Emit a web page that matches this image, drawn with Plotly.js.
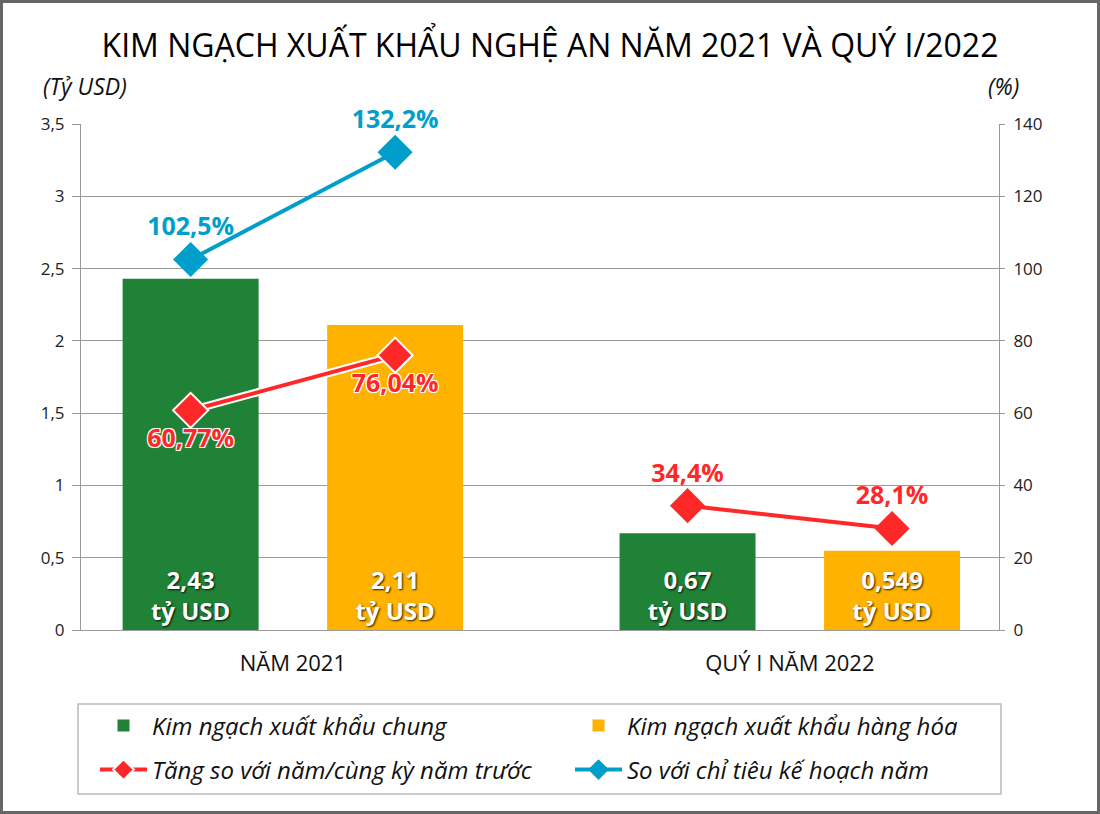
<!DOCTYPE html>
<html>
<head>
<meta charset="utf-8">
<script src="https://cdn.plot.ly/plotly-3.0.1.min.js"></script>
<style>
  html, body { margin: 0; padding: 0; background: #fff; }
  #wrap { position: relative; width: 1100px; height: 814px; }
  #chart { width: 1100px; height: 814px; }
  #frame { position: absolute; left: 0; top: 0; width: 1100px; height: 814px; box-sizing: border-box; border: 3px solid #666; pointer-events: none; }
</style>
</head>
<body>
<div id="wrap"><div id="chart"></div><div id="frame"></div></div>
<script>
// ---- data ----
const categories = ['NĂM 2021', 'QUÝ I NĂM 2022'];
const exportTotal = [2.43, 0.67];        // Kim ngạch xuất khẩu chung (tỷ USD)
const exportGoods = [2.11, 0.549];       // Kim ngạch xuất khẩu hàng hóa (tỷ USD)
const growth2021 = [60.77, 76.04];       // Tăng so với năm trước (%)
const growth2022 = [34.4, 28.1];         // Tăng so với cùng kỳ (%)
const plan2021 = [102.5, 132.2];         // So với chỉ tiêu kế hoạch năm (%)
const seriesNames = ['Kim ngạch xuất khẩu chung', 'Kim ngạch xuất khẩu hàng hóa',
                     'Tăng so với năm/cùng kỳ năm trước', 'So với chỉ tiêu kế hoạch năm'];
const yTicksLeft = [0, 0.5, 1, 1.5, 2, 2.5, 3, 3.5];
const yTicksRight = [0, 20, 40, 60, 80, 100, 120, 140];

// ---- layout helpers ----
const groupPos = [0, 2.43];
const off = 0.5;
const barW = 0.665;
const xa = groupPos.map(g => g - off);
const xb = groupPos.map(g => g + off);
const fmt = v => String(v).replace('.', ',');

const GREEN = '#1f8236', ORANGE = '#ffb300', RED = '#ff2828', BLUE = '#009fcb';
const FONT = 'Open Sans, Noto Sans, sans-serif';
const barTextFont = { family: FONT, size: 24, color: '#fff', weight: 700, shadow: '1px 1px 2px rgba(0,0,0,0.85)' };
const whiteOutline = '-1px -1px 0 #fff, 1px -1px 0 #fff, -1px 1px 0 #fff, 1px 1px 0 #fff, 0 0 2px #fff';

const traces = [
  {
    type: 'bar', name: seriesNames[0], x: xa, y: exportTotal, width: barW,
    marker: { color: GREEN }, legend: 'legend',
    text: exportTotal.map(v => fmt(v) + '<br>tỷ USD'), textposition: 'inside',
    insidetextanchor: 'start', textfont: barTextFont, hoverinfo: 'skip'
  },
  {
    type: 'bar', name: seriesNames[1], x: xb, y: exportGoods, width: barW,
    marker: { color: ORANGE }, legend: 'legend2',
    text: exportGoods.map(v => fmt(v) + '<br>tỷ USD'), textposition: 'inside',
    insidetextanchor: 'start', textfont: barTextFont, hoverinfo: 'skip'
  },
  { // white outline under the 2021 red line
    type: 'scatter', mode: 'lines', x: [xa[0], xb[0]], y: growth2021, yaxis: 'y2',
    line: { color: '#fff', width: 8 }, showlegend: false, hoverinfo: 'skip'
  },
  {
    type: 'scatter', mode: 'lines+markers+text', name: seriesNames[2],
    x: [xa[0], xb[0]], y: growth2021, yaxis: 'y2', legend: 'legend3', legendgroup: 'red',
    line: { color: RED, width: 4 },
    marker: { symbol: 'diamond', size: 27, color: RED, line: { color: '#fff', width: 2 } },
    text: growth2021.map(v => fmt(v) + '%'), textposition: 'bottom center',
    textfont: { family: FONT, size: 25, color: RED, weight: 700, shadow: whiteOutline },
    hoverinfo: 'skip', cliponaxis: false
  },
  {
    type: 'scatter', mode: 'lines+markers+text', name: seriesNames[2],
    x: [xa[1], xb[1]], y: growth2022, yaxis: 'y2', legend: 'legend3', legendgroup: 'red', showlegend: false,
    line: { color: RED, width: 4 },
    marker: { symbol: 'diamond', size: 27, color: RED },
    text: growth2022.map(v => fmt(v) + '%'), textposition: 'top center',
    textfont: { family: FONT, size: 25, color: RED, weight: 700 },
    hoverinfo: 'skip', cliponaxis: false
  },
  {
    type: 'scatter', mode: 'lines+markers+text', name: seriesNames[3],
    x: [xa[0], xb[0]], y: plan2021, yaxis: 'y2', legend: 'legend4',
    line: { color: BLUE, width: 4 },
    marker: { symbol: 'diamond', size: 27, color: BLUE },
    text: plan2021.map(v => fmt(v) + '%'), textposition: 'top center',
    textfont: { family: FONT, size: 25, color: BLUE, weight: 700 },
    hoverinfo: 'skip', cliponaxis: false
  }
];

const axisGray = '#9a9a9a';
const legendFont = { family: FONT, size: 24, color: '#111', style: 'italic' };
const py = px => (630 - px) / 506;   // pixel row -> paper y
const pxX = px => (px - 81) / 918;   // pixel col -> paper x
function mkLegend(xPix, yPix) {
  return {
    orientation: 'h', x: pxX(xPix), xanchor: 'left', y: py(yPix), yanchor: 'middle',
    font: legendFont, itemwidth: 47, bgcolor: 'rgba(0,0,0,0)', borderwidth: 0
  };
}
const layout = {
  width: 1100, height: 814,
  margin: { l: 81, r: 101, t: 124, b: 184 },
  paper_bgcolor: '#fff', plot_bgcolor: '#fff',
  separators: ',.',
  showlegend: true,
  title: {
    text: 'KIM NGẠCH XUẤT KHẨU NGHỆ AN NĂM 2021 VÀ QUÝ I/2022',
    x: 0.5, xref: 'container', xanchor: 'center',
    y: 1 - 46 / 814, yref: 'container', yanchor: 'middle',
    font: { family: FONT, size: 32, color: '#000' }
  },
  xaxis: {
    range: [-1.036, 3.453], tickmode: 'array', tickvals: groupPos, ticktext: categories,
    showgrid: false, zeroline: false, showline: true, linecolor: axisGray, linewidth: 1,
    ticks: '', ticklabelstandoff: 14, tickfont: { family: FONT, size: 22, color: '#111' },
    fixedrange: true
  },
  yaxis: {
    range: [0, 3.5], tickmode: 'array', tickvals: yTicksLeft,
    showgrid: true, gridcolor: axisGray, gridwidth: 1, zeroline: false,
    showline: true, linecolor: axisGray, linewidth: 1,
    ticks: 'outside', ticklen: 8, tickcolor: axisGray, ticklabelstandoff: 4,
    tickfont: { family: FONT, size: 17, color: '#222' }, fixedrange: true
  },
  yaxis2: {
    range: [0, 140], tickmode: 'array', tickvals: yTicksRight, overlaying: 'y', side: 'right',
    showgrid: false, zeroline: false, showline: true, linecolor: axisGray, linewidth: 1,
    ticks: 'outside', ticklen: 5, tickcolor: axisGray, ticklabelstandoff: 5,
    tickfont: { family: FONT, size: 17, color: '#222' }, fixedrange: true
  },
  legend: mkLegend(95, 726),
  legend2: mkLegend(570, 726),
  legend3: mkLegend(95, 770),
  legend4: mkLegend(570, 770),
  shapes: [{
    type: 'rect', xref: 'paper', yref: 'paper', layer: 'below',
    x0: pxX(78), x1: pxX(1001), y0: py(794), y1: py(704),
    line: { color: '#bbbbbb', width: 1.5 }, fillcolor: 'rgba(0,0,0,0)'
  }],
  annotations: [
    { text: '(Tỷ USD)', xref: 'paper', yref: 'paper', x: pxX(84.5), y: py(86),
      xanchor: 'center', yanchor: 'middle', showarrow: false,
      font: { family: FONT, size: 23, color: '#111', style: 'italic' } },
    { text: '(%)', xref: 'paper', yref: 'paper', x: pxX(1004), y: py(86),
      xanchor: 'center', yanchor: 'middle', showarrow: false,
      font: { family: FONT, size: 23, color: '#111', style: 'italic' } }
  ]
};

Plotly.newPlot('chart', traces, layout, { displayModeBar: false, staticPlot: true });
</script>
</body>
</html>
